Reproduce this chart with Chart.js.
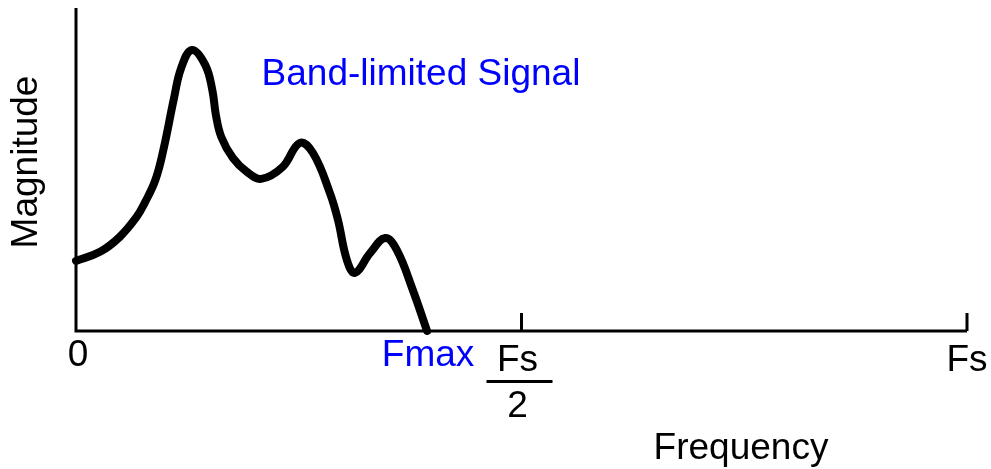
<!DOCTYPE html>
<html>
<head>
<meta charset="utf-8">
<script src="https://cdn.jsdelivr.net/npm/chart.js@4/dist/chart.umd.min.js"></script>
<style>
html,body{margin:0;padding:0;background:#fff;}
#wrap{width:991px;height:469px;position:relative;}
</style>
</head>
<body>
<div id="wrap"><canvas id="c" width="991" height="469"></canvas></div>
<script>
// Frequency as a fraction of Fs, magnitude in arbitrary units (0..10)
const freq = [0, 0.027, 0.049, 0.068, 0.077, 0.089, 0.098, 0.110, 0.118, 0.130, 0.145, 0.153, 0.157, 0.163, 0.176, 0.192, 0.208, 0.232, 0.251, 0.266, 0.285, 0.294, 0.304, 0.313, 0.330, 0.347, 0.360, 0.378, 0.394];
const magnitude = [2.17, 2.45, 2.91, 3.53, 3.96, 4.67, 5.60, 7.21, 8.14, 8.70, 8.24, 7.46, 6.69, 6.01, 5.36, 4.92, 4.71, 5.08, 5.82, 5.51, 4.27, 3.44, 2.20, 1.80, 2.41, 2.88, 2.51, 1.27, 0];
const tickValues = [0.5, 1];
const fmax = 0.394;
const seriesLabel = 'Band-limited Signal';
const xTitle = 'Frequency';
const yTitle = 'Magnitude';

const points = freq.map((f, i) => ({x: f, y: magnitude[i]}));
const FONT = '"Liberation Sans", Arial, sans-serif';

const annotate = {
  id: 'annotate',
  afterDraw(chart) {
    const {ctx, scales: {x, y}} = chart;
    ctx.save();
    ctx.strokeStyle = '#000';
    ctx.lineWidth = 3;
    ctx.lineCap = 'butt';
    // axes
    ctx.beginPath();
    ctx.moveTo(x.getPixelForValue(0), y.getPixelForValue(10));
    ctx.lineTo(x.getPixelForValue(0), y.getPixelForValue(0));
    ctx.lineTo(x.getPixelForValue(1), y.getPixelForValue(0));
    ctx.stroke();
    // ticks (pointing upward)
    tickValues.forEach(v => {
      const px = x.getPixelForValue(v);
      ctx.beginPath();
      ctx.moveTo(px, y.getPixelForValue(0));
      ctx.lineTo(px, y.getPixelForValue(0) - 18);
      ctx.stroke();
    });
    const base = y.getPixelForValue(0);
    ctx.textAlign = 'center';
    ctx.textBaseline = 'middle';
    ctx.font = '37px ' + FONT;
    ctx.fillStyle = '#000';
    ctx.fillText('0', x.getPixelForValue(0) + 2, base + 25);
    ctx.fillText('Fs', x.getPixelForValue(0.5) - 4, base + 30);
    ctx.fillText('2', x.getPixelForValue(0.5) - 4, base + 76);
    ctx.fillRect(x.getPixelForValue(0.5) - 35, base + 49, 66, 3);
    ctx.fillText('Fs', x.getPixelForValue(1), base + 30);
    ctx.fillText(xTitle, 741, 449);
    ctx.save();
    ctx.translate(27, 162);
    ctx.rotate(-Math.PI / 2);
    ctx.fillText(yTitle, 0, 0);
    ctx.restore();
    ctx.fillStyle = '#0000ff';
    ctx.fillText('Fmax', x.getPixelForValue(fmax) + 1, base + 25);
    ctx.fillText(seriesLabel, 421, 75);
    ctx.restore();
  }
};

new Chart(document.getElementById('c'), {
  type: 'line',
  data: {
    datasets: [{
      label: seriesLabel,
      data: points,
      borderColor: '#000',
      borderWidth: 8,
      borderCapStyle: 'round',
      borderJoinStyle: 'round',
      pointRadius: 0,
      tension: 0.4,
      fill: false,
      clip: false
    }]
  },
  options: {
    responsive: false,
    animation: false,
    events: [],
    layout: {padding: {left: 76, right: 24, top: 8, bottom: 138}},
    plugins: {legend: {display: false}, tooltip: {enabled: false}},
    scales: {
      x: {type: 'linear', min: 0, max: 1, display: false},
      y: {type: 'linear', min: 0, max: 10, display: false}
    }
  },
  plugins: [annotate]
});
</script>
</body>
</html>
